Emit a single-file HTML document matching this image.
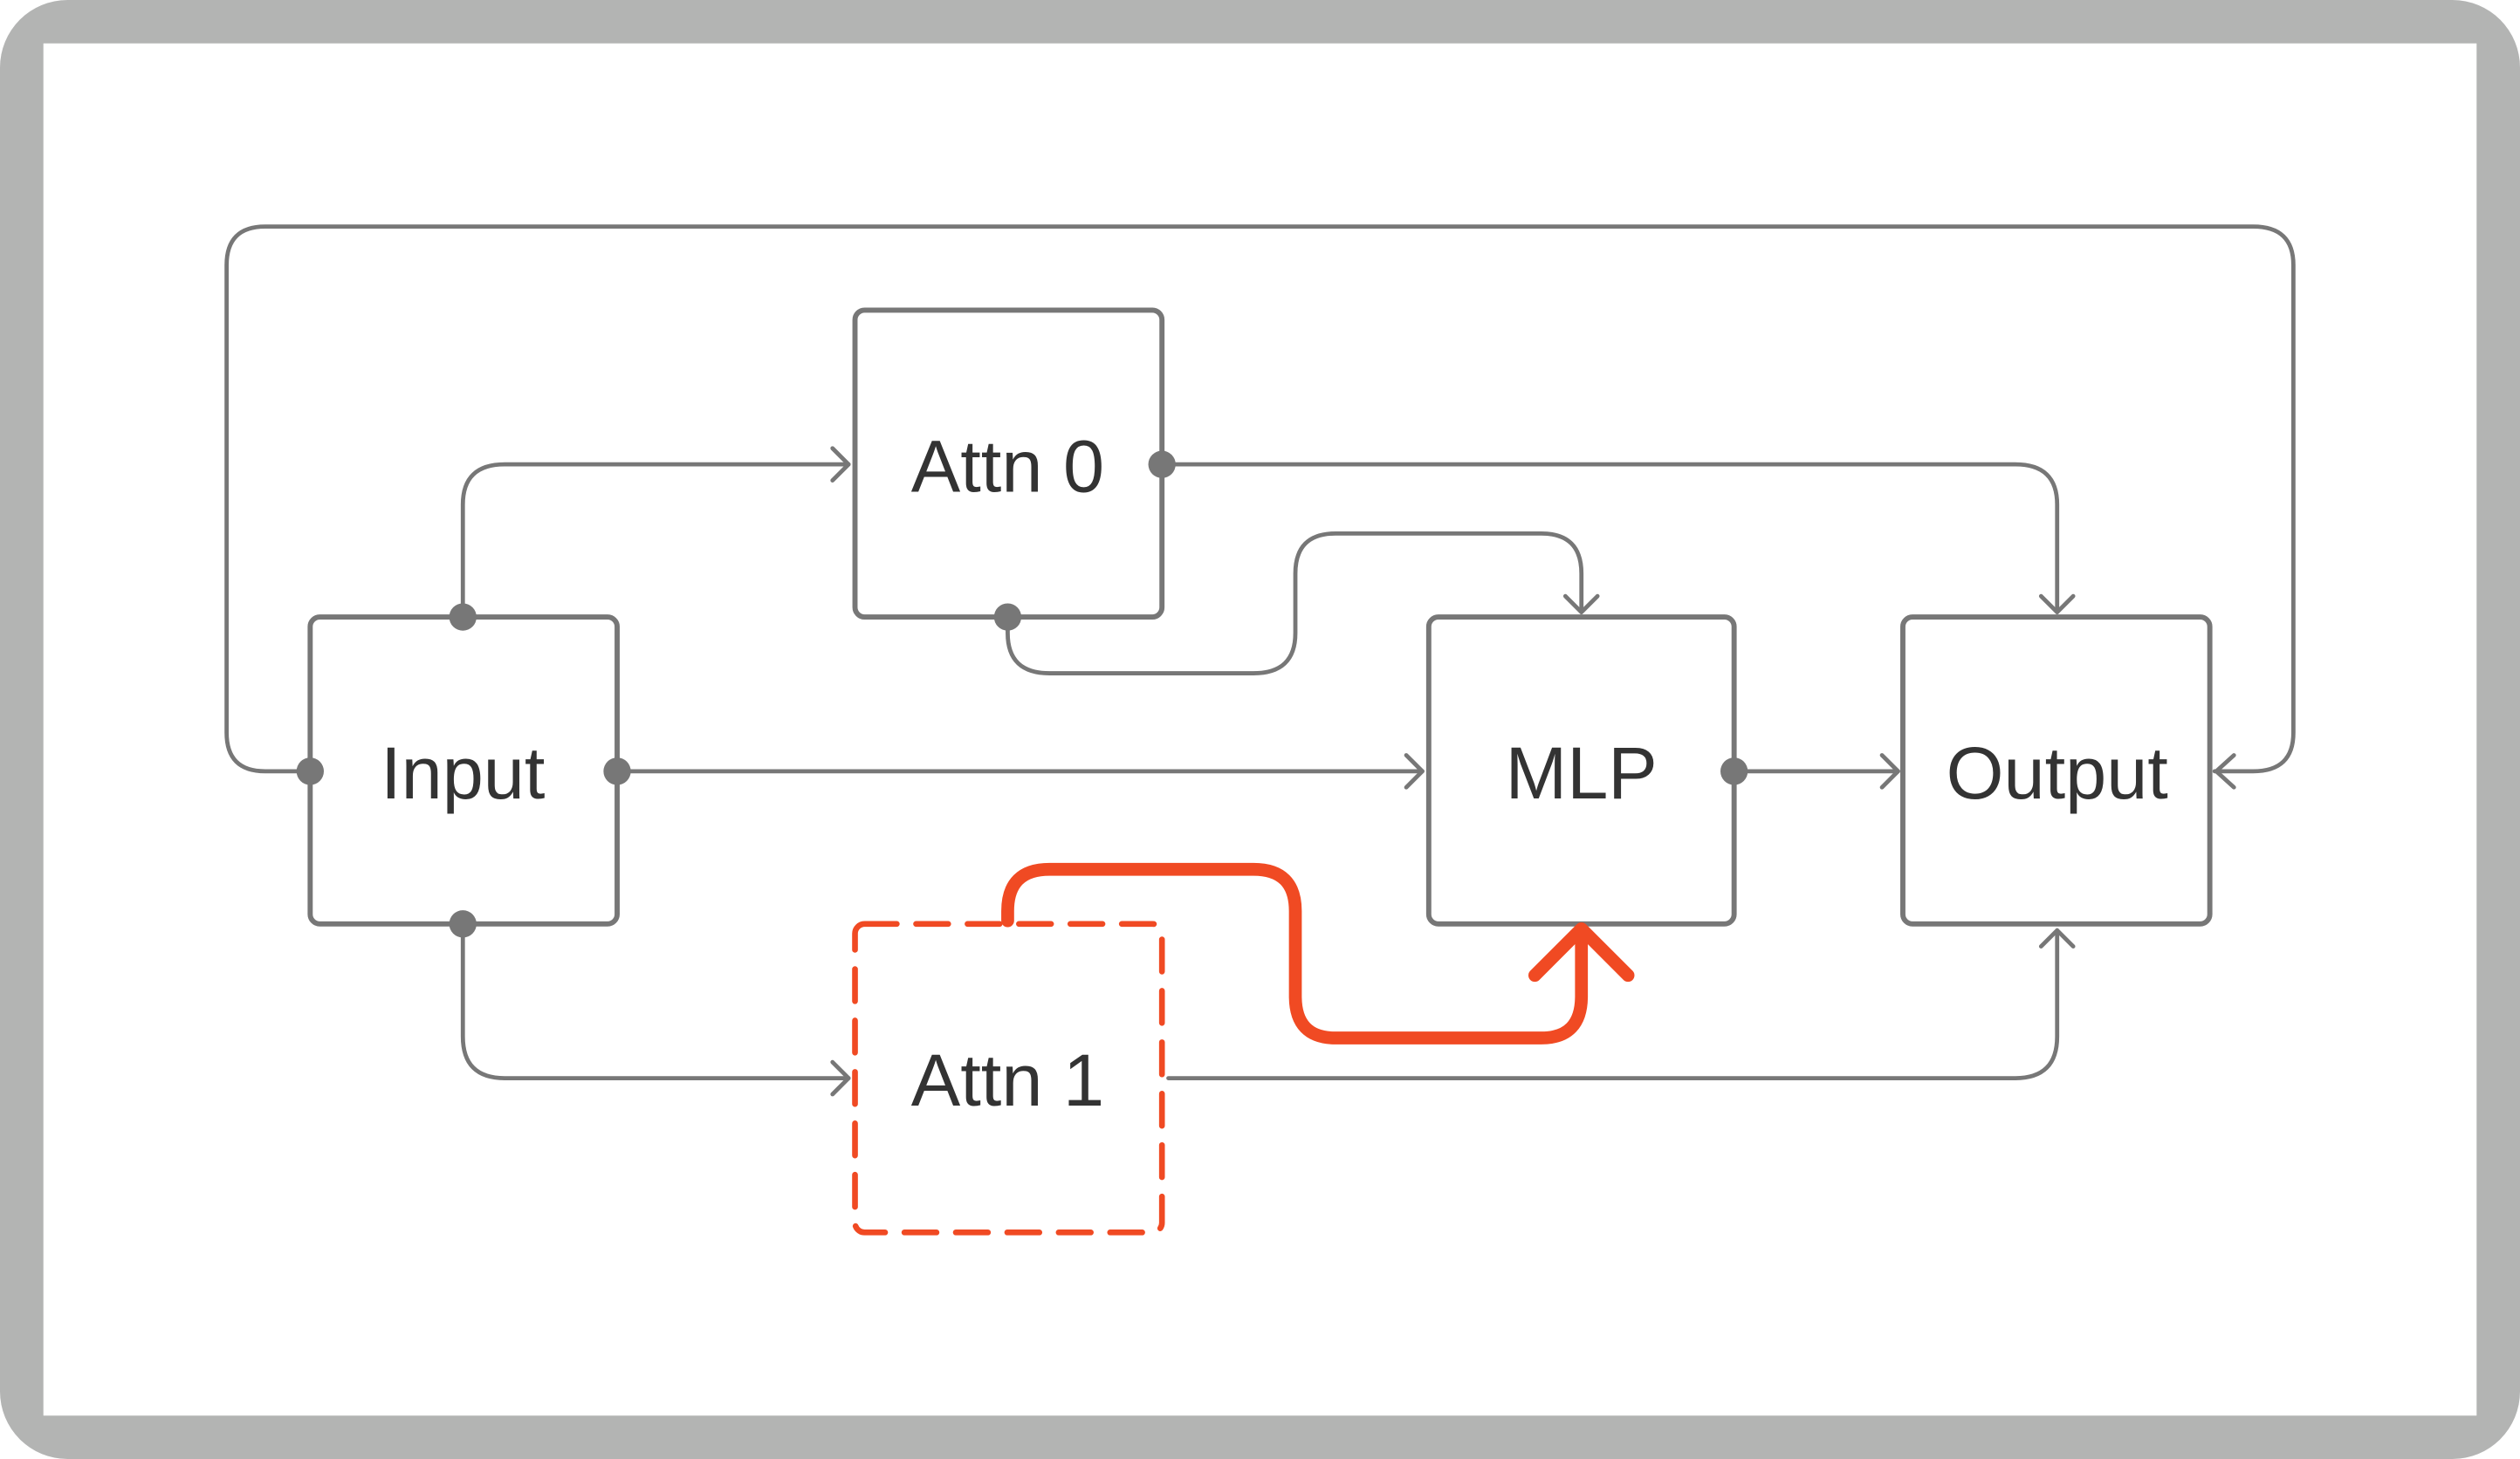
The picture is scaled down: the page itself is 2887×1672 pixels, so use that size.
<!DOCTYPE html>
<html><head><meta charset="utf-8"><style>
html,body{margin:0;padding:0;background:#fff}
svg{display:block}
text{font-family:"Liberation Sans",sans-serif;font-size:46px;fill:#333;text-anchor:middle;dominant-baseline:central}
</style></head><body>
<svg width="2887" height="1672" viewBox="0 0 1568 908" preserveAspectRatio="none">
<rect x="0" y="0" width="1568" height="908" rx="42" fill="#b3b4b3"/>
<rect x="27" y="27" width="1514" height="854" fill="#fff"/>
<g fill="none" stroke="#777" stroke-width="2.6" stroke-linecap="round" stroke-linejoin="round">
<path d="M193 480 H165 Q141 480 141 456 V165 Q141 141 165 141 H1402 Q1427 141 1427 165 V456 Q1427 480 1402 480 H1378"/>
<path d="M1390 470 L1379 480 L1390 490"/>
<path d="M288 384 V314 Q288 289 314 289 H528"/>
<path d="M518 279 L528 289 L518 299"/>
<path d="M723 289 H1254 Q1280 289 1280 314 V381"/>
<path d="M1270 371 L1280 381 L1290 371"/>
<path d="M627 384 V394 Q627 419 653 419 H780 Q806 419 806 394 V357 Q806 332 831 332 H959 Q984 332 984 357 V381"/>
<path d="M974 371 L984 381 L994 371"/>
<path d="M384 480 H885"/><path d="M875 470 L885 480 L875 490"/>
<path d="M1079 480 H1181"/><path d="M1171 470 L1181 480 L1171 490"/>
<path d="M288 575 V645 Q288 671 314 671 H528"/>
<path d="M518 661 L528 671 L518 681"/>
<path d="M727 671 H1254 Q1280 671 1280 645 V579"/>
<path d="M1270 589 L1280 579 L1290 589"/>
</g>
<g fill="#fff" stroke="#777" stroke-width="3.2">
<rect x="193" y="384" width="191" height="191" rx="6"/>
<rect x="532" y="193" width="191" height="191" rx="6"/>
<rect x="889" y="384" width="190" height="191" rx="6"/>
<rect x="1184" y="384" width="191" height="191" rx="6"/>
</g>
<rect x="532" y="575" width="191" height="192" rx="6" fill="#fff" stroke="#f04a23" stroke-width="3.6" stroke-dasharray="20 12" stroke-linecap="round"/>
<g fill="#777">
<circle cx="193" cy="480" r="8.5"/><circle cx="384" cy="480" r="8.5"/>
<circle cx="288" cy="384" r="8.5"/><circle cx="288" cy="575" r="8.5"/>
<circle cx="723" cy="289" r="8.5"/><circle cx="627" cy="384" r="8.5"/>
<circle cx="1079" cy="480" r="8.5"/>
</g>
<g fill="none" stroke="#f04a23" stroke-width="8" stroke-linecap="round" stroke-linejoin="round">
<path d="M627 573 V567 Q627 541 653 541 H780 Q806 541 806 567 V620 Q806 646 831 646 H959 Q984 646 984 620 V582"/>
<path d="M955 607 L984 578 L1013 607"/>
</g>
<text x="288" y="481">Input</text>
<text x="627" y="290">Attn 0</text>
<text x="984" y="481">MLP</text>
<text x="1280" y="481">Output</text>
<text x="627" y="672">Attn 1</text>
</svg>
</body></html>
